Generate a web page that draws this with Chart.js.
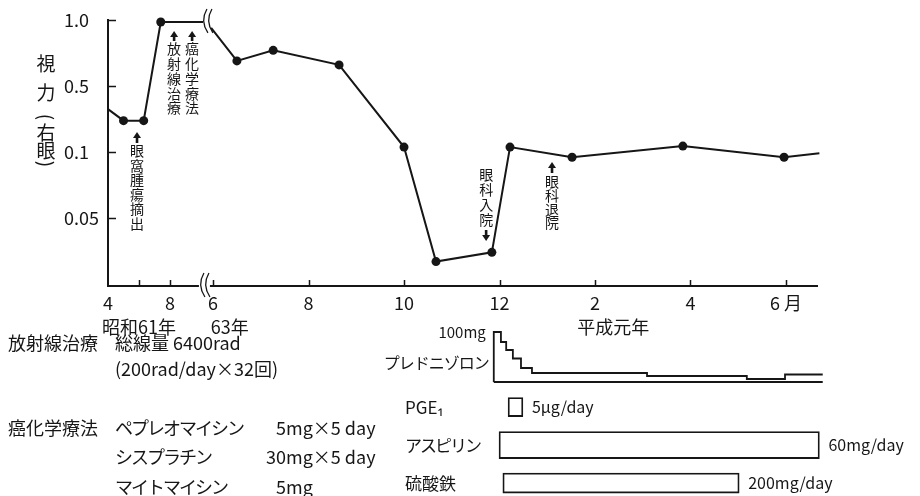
<!DOCTYPE html>
<html>
<head>
<meta charset="utf-8">
<script src="https://cdn.jsdelivr.net/npm/chart.js@4.4.1/dist/chart.umd.min.js"></script>
<style>
  html, body { margin: 0; padding: 0; background: #fff; }
  #wrap { position: relative; width: 920px; height: 496px; }
  #wrap canvas { position: absolute; left: 0; top: 0; }
</style>
</head>
<body>
<div id="wrap">
  <canvas id="vision" width="920" height="496"></canvas>
  <canvas id="drugs" width="920" height="496"></canvas>
</div>
<script>
// 視力(右眼) -- 昭和61年, month of the year (before the axis break)
var months61 = [4.0, 5.0, 6.3, 7.4, 10.13];
var vision61 = [0.36, 0.29, 0.29, 0.985, 0.985];
// 昭和63年6月 .. 平成元年6月, months counted from 昭和63年1月 (13 = 平成元年1月)
var months63 = [5.96, 6.5, 7.26, 8.64, 10.0, 10.67, 11.84, 12.22, 13.52, 15.84, 17.96, 18.7];
var vision63 = [0.94, 0.69, 0.77, 0.66, 0.13, 0.017, 0.024, 0.13, 0.096, 0.136, 0.096, 0.099];

// acuity axis
var acuityTicks = [0.05, 0.1, 0.5, 1.0];
var acuityLabels = ['0.05', '0.1', '0.5', '1.0'];

// month axis
var ticks61 = [4, 6, 8];
var tickLabels61 = ['4', '', '8'];
var ticks63 = [6, 8, 10, 12, 14, 16, 18];
var tickLabels63 = ['6', '8', '10', '12', '2', '4', '6 月'];
var yearLabels = ['昭和61年', '63年', '平成元年'];

// events marked with arrows
var eventNames = ['眼窩腫瘍摘出', '放射線治療', '癌化学療法', '眼科入院', '眼科退院'];
var eventYear = [61, 61, 61, 63, 63];
var eventMonth = [5.87, 8.26, 9.42, 11.72, 13.1];

// プレドニゾロン mg/day (step starts), months from 昭和63年1月
var predMonths = [11.88, 11.88, 12.03, 12.14, 12.28, 12.45, 12.68, 15.09, 17.18, 17.98, 18.77];
var predDose = [0, 100, 80, 64, 47, 28, 18, 12, 6, 15, 15];

// other drugs, months from 昭和63年1月
var drugNames = ['PGE₁', 'アスピリン', '硫酸鉄'];
var drugStart = [12.18, 11.99, 12.07];
var drugEnd = [12.49, 18.70, 17.02];
var drugDose = ['5μg/day', '60mg/day', '200mg/day'];

// text notes under the axis
var radiationNote = ['総線量 6400rad', '(200rad/day×32回)'];
var chemoDrugs = ['ペプレオマイシン', 'シスプラチン', 'マイトマイシン'];
var chemoDoses = ['5mg×5 day', '30mg×5 day', '5mg'];

var INK = '#161616';
var FONT = '"Noto Sans CJK JP", "Noto Sans", sans-serif';

// the axis is squeezed before the break (昭和61年) and normal after it
function u61(m) { return (m - 4) * 0.325; }
function u63(m) { return 2.2 + (m - 6); }
function xPos(year, m) { return year === 61 ? u61(m) : u63(m); }
var X_MAX = 14.85;
var BREAK_U = 2.03;

// acuity -> evenly spaced tick index (0.05, 0.1, 0.5, 1.0)
function acuityToAxis(v) {
  var t = acuityTicks;
  for (var i = 0; i < t.length - 1; i++) {
    if (v <= t[i + 1] || i === t.length - 2) {
      return i + (v - t[i]) / (t[i + 1] - t[i]);
    }
  }
}

var xTicks = ticks61.map(u61).concat(ticks63.map(u63));
var xTickLabels = tickLabels61.concat(tickLabels63);

function markers(n) {
  var r = [];
  for (var i = 0; i < n; i++) r.push(i === 0 || i === n - 1 ? 0 : 4.5);
  return r;
}

function breakMarks(ctx, x, y, h) {
  ctx.beginPath();
  [0, 5].forEach(function (dx) {
    ctx.moveTo(x + dx + 2, y - h);
    ctx.quadraticCurveTo(x + dx - 5, y, x + dx + 3, y + h);
  });
  ctx.stroke();
}

function vertical(ctx, text, x, y0, pitch) {
  for (var i = 0; i < text.length; i++) {
    ctx.fillText(text[i], x, y0 + i * pitch);
  }
}

function arrow(ctx, x, yTail, yHead) {
  var dir = yHead < yTail ? -1 : 1;
  ctx.beginPath();
  ctx.lineWidth = 2.6;
  ctx.moveTo(x, yTail);
  ctx.lineTo(x, yHead - dir * 4);
  ctx.stroke();
  ctx.beginPath();
  ctx.moveTo(x, yHead);
  ctx.lineTo(x - 4, yHead - dir * 6);
  ctx.lineTo(x + 4, yHead - dir * 6);
  ctx.closePath();
  ctx.fill();
}

var visionDecor = {
  id: 'visionDecor',
  afterDraw: function (chart) {
    var ctx = chart.ctx, area = chart.chartArea;
    var xs = chart.scales.x, ys = chart.scales.y;
    ctx.save();
    ctx.strokeStyle = INK;
    ctx.fillStyle = INK;

    // short ticks pointing into the plot
    ctx.lineWidth = 1.5;
    ctx.beginPath();
    xs.ticks.forEach(function (t) {
      var px = Math.round(xs.getPixelForValue(t.value)) + 0.5;
      if (px < area.left + 3) return;
      ctx.moveTo(px, area.bottom);
      ctx.lineTo(px, area.bottom - 6);
    });
    ys.ticks.forEach(function (t) {
      var py = Math.round(ys.getPixelForValue(t.value)) + 0.5;
      ctx.moveTo(area.left, py);
      ctx.lineTo(area.left + 8, py);
    });
    ctx.stroke();

    // axis break on the time axis and on the curve
    var bx = xs.getPixelForValue(BREAK_U);
    ctx.fillStyle = '#fff';
    ctx.fillRect(bx - 6, area.bottom - 3, 11, 6);
    ctx.fillStyle = INK;
    ctx.lineWidth = 1.3;
    breakMarks(ctx, bx - 3, area.bottom - 1, 12);
    breakMarks(ctx, bx, ys.getPixelForValue(acuityToAxis(vision61[vision61.length - 1])) - 1, 12);

    // year labels under the month ticks
    ctx.font = '18px ' + FONT;
    ctx.textAlign = 'center';
    ctx.textBaseline = 'middle';
    var yearY = area.bottom + 41;
    ctx.fillText(yearLabels[0], xs.getPixelForValue(xPos(61, 6)), yearY);
    ctx.fillText(yearLabels[1], xs.getPixelForValue(xPos(63, 6.35)), yearY);
    ctx.fillText(yearLabels[2], xs.getPixelForValue(xPos(63, 14.38)), yearY);

    // axis title, written vertically
    ctx.font = '19px ' + FONT;
    ctx.fillText('視', 46, 64);
    ctx.fillText('力', 46, 93);
    ctx.fillText('右', 46, 133);
    ctx.fillText('眼', 46, 151);
    [['(', 117], [')', 164]].forEach(function (p) {
      ctx.save();
      ctx.translate(46, p[1]);
      ctx.rotate(Math.PI / 2);
      ctx.fillText(p[0], 0, 0);
      ctx.restore();
    });

    // event notes: [arrow tail, arrow head, first character, pitch]
    var layout = [
      [143, 132, 151, 14.5],
      [41, 31, 49, 14.75],
      [41, 31, 49, 14.75],
      [230, 241, 175, 15],
      [173, 162, 182, 13.7]
    ];
    ctx.font = '14px ' + FONT;
    eventNames.forEach(function (name, i) {
      var ex = xs.getPixelForValue(xPos(eventYear[i], eventMonth[i]));
      var l = layout[i];
      arrow(ctx, ex, l[0], l[1]);
      vertical(ctx, name, ex, l[2], l[3]);
    });
    ctx.restore();
  }
};

function lineSet(months, values, year) {
  return {
    data: months.map(function (m, i) {
      return { x: xPos(year, m), y: acuityToAxis(values[i]) };
    }),
    borderColor: INK,
    borderWidth: 2,
    pointRadius: markers(months.length),
    pointBackgroundColor: INK,
    pointBorderWidth: 0,
    clip: false
  };
}

new Chart(document.getElementById('vision'), {
  type: 'line',
  data: {
    datasets: [lineSet(months61, vision61, 61), lineSet(months63, vision63, 63)]
  },
  options: {
    responsive: false,
    animation: false,
    events: [],
    layout: { padding: { left: 64, right: 103, top: 20, bottom: 170 } },
    plugins: { legend: { display: false }, tooltip: { enabled: false } },
    scales: {
      x: {
        type: 'linear',
        min: 0,
        max: X_MAX,
        offset: false,
        grid: { display: false, drawTicks: false },
        border: { color: INK, width: 2 },
        afterBuildTicks: function (s) {
          s.ticks = xTicks.map(function (v) { return { value: v }; });
        },
        afterFit: function (s) { s.height = 40; },
        ticks: {
          autoSkip: false,
          maxRotation: 0,
          padding: 6,
          color: INK,
          font: { family: FONT, size: 18 },
          callback: function (v, i) { return xTickLabels[i]; }
        }
      },
      y: {
        type: 'linear',
        min: -1.03,
        max: 3,
        grid: { display: false, drawTicks: false },
        border: { color: INK, width: 2 },
        afterBuildTicks: function (s) {
          s.ticks = acuityTicks.map(function (v, i) { return { value: i }; });
        },
        afterFit: function (s) { s.width = 44; },
        ticks: {
          crossAlign: 'far',
          padding: 0,
          color: INK,
          font: { family: FONT, size: 18 },
          callback: function (v, i) { return acuityLabels[i]; }
        }
      }
    }
  },
  plugins: [visionDecor]
});

var drugDecor = {
  id: 'drugDecor',
  afterDraw: function (chart) {
    var ctx = chart.ctx;
    var xs = chart.scales.x, yP = chart.scales.yP, yB = chart.scales.yB;
    ctx.save();
    ctx.fillStyle = INK;
    ctx.textBaseline = 'middle';
    ctx.textAlign = 'left';

    // 放射線治療 / 癌化学療法 notes
    ctx.font = '18px ' + FONT;
    ctx.fillText('放射線治療', 8, 343);
    ctx.fillText(radiationNote[0], 115, 343);
    ctx.fillText(radiationNote[1], 115, 369);
    ctx.fillText('癌化学療法', 8, 428);
    chemoDrugs.forEach(function (d, i) {
      var y = 428 + i * 29.5;
      ctx.letterSpacing = '-2px';
      ctx.fillText(d, 115, y);
      ctx.letterSpacing = '0px';
      var num = chemoDoses[i].match(/^\d+/)[0];
      ctx.fillText(chemoDoses[i], 286 - ctx.measureText(num).width, y);
    });

    // drug rows
    drugNames.forEach(function (n, i) {
      var y = yB.getPixelForValue(i);
      ctx.font = '17px ' + FONT;
      ctx.letterSpacing = i === 1 ? '-2px' : '0px';
      ctx.fillText(n, 405, y);
      ctx.letterSpacing = '0px';
      ctx.font = '16px ' + FONT;
      ctx.fillText(drugDose[i], xs.getPixelForValue(u63(drugEnd[i])) + 9, y);
    });

    // prednisolone labels
    var x0 = xs.getPixelForValue(u63(predMonths[0]));
    ctx.textAlign = 'right';
    ctx.font = '15px ' + FONT;
    ctx.fillText('100mg', x0 - 8, yP.getPixelForValue(100));
    ctx.font = '16px ' + FONT;
    ctx.letterSpacing = '-1px';
    ctx.fillText('プレドニゾロン', x0 - 5, yP.getPixelForValue(38));
    ctx.restore();
  }
};

var barHeights = [19, 27, 20];

new Chart(document.getElementById('drugs'), {
  type: 'bar',
  data: {
    datasets: [
      {
        type: 'line',
        data: predMonths.map(function (m, i) { return { x: u63(m), y: predDose[i] }; }),
        stepped: true,
        borderColor: INK,
        borderWidth: 1.8,
        pointRadius: 0,
        xAxisID: 'x',
        yAxisID: 'yP',
        clip: false
      },
      {
        type: 'line',
        data: [
          { x: u63(predMonths[0]), y: 0 },
          { x: u63(predMonths[predMonths.length - 1]), y: 0 }
        ],
        borderColor: INK,
        borderWidth: 1.8,
        pointRadius: 0,
        xAxisID: 'x',
        yAxisID: 'yP',
        clip: false
      }
    ].concat(drugNames.map(function (n, i) {
      return {
        type: 'bar',
        indexAxis: 'y',
        data: [{ x: [u63(drugStart[i]), u63(drugEnd[i])], y: i }],
        xAxisID: 'x',
        yAxisID: 'yB',
        grouped: false,
        barThickness: barHeights[i],
        backgroundColor: '#fff',
        borderColor: INK,
        borderWidth: 1.8,
        borderSkipped: false,
        clip: false
      };
    }))
  },
  options: {
    responsive: false,
    animation: false,
    events: [],
    layout: { padding: { left: 108, right: 103, top: 320, bottom: 0 } },
    plugins: { legend: { display: false }, tooltip: { enabled: false } },
    scales: {
      x: { type: 'linear', display: false, offset: false, min: 0, max: X_MAX },
      yP: { type: 'linear', display: false, offset: false, min: -228, max: 124 },
      yB: { type: 'linear', display: false, offset: false, reverse: true, min: -2.29, max: 2.34 }
    }
  },
  plugins: [drugDecor]
});
</script>
</body>
</html>
